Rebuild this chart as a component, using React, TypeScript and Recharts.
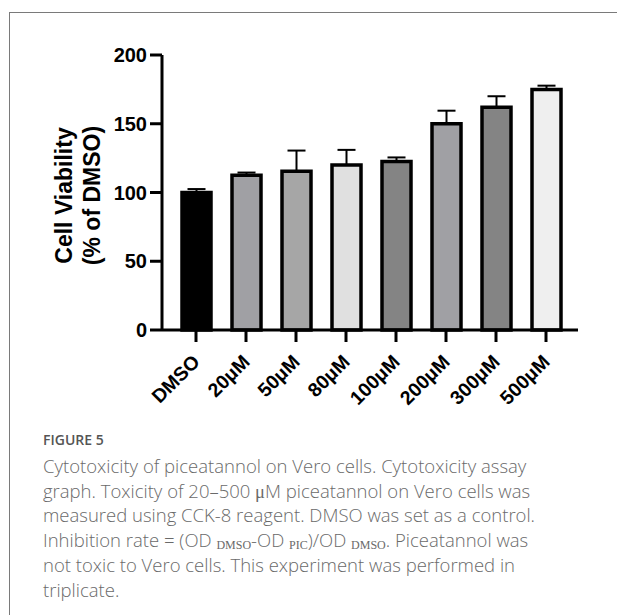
import { BarChart, Bar, Cell, XAxis, YAxis, ErrorBar, Label } from "recharts";

const categories = ["DMSO", "20μM", "50μM", "80μM", "100μM", "200μM", "300μM", "500μM"];
const viability = [100, 112.5, 115.5, 120, 122.5, 150, 162, 175];
const sdUpper = [2.5, 2, 15, 11, 3, 9.5, 8, 2.7];
const barFills = ["#000000", "#a0a0a4", "#a6a6a6", "#e0e0e0", "#848484", "#a0a0a4", "#848484", "#efefef"];
const yTicks = [0, 50, 100, 150, 200];

const data = categories.map((name, i) => ({
  name,
  v: viability[i],
  err: [0, sdUpper[i]],
}));

const axisFont = "'Liberation Sans', Arial, sans-serif";

function RotTick(props: any) {
  const { x, y, payload } = props;
  const ax = x + 5;
  const ay = y + 19;
  return (
    <text
      x={ax}
      y={ay}
      transform={`rotate(-45, ${ax}, ${ay})`}
      textAnchor="end"
      fontFamily={axisFont}
      fontWeight="bold"
      fontSize={19.5}
      fill="#000"
    >
      {payload.value}
    </text>
  );
}

function YLabel(props: any) {
  const vb = props.viewBox || {};
  const cy = vb.y + vb.height / 2 + 3;
  const x1 = vb.x + 44;
  const x2 = vb.x + 72;
  return (
    <g fontFamily={axisFont} fontWeight="bold" fontSize={23} fill="#000">
      <text x={x1} y={cy} transform={`rotate(-90, ${x1}, ${cy})`} textAnchor="middle" dominantBaseline="central">
        Cell Viability
      </text>
      <text x={x2} y={cy} transform={`rotate(-90, ${x2}, ${cy})`} textAnchor="middle" dominantBaseline="central">
        (% of DMSO)
      </text>
    </g>
  );
}

// serif bits in the caption (subscripts and the micro sign)
const sub = { fontFamily: "'Liberation Serif', serif", fontSize: 12, lineHeight: "0", position: "relative" as const, top: 2 };
const mu = { fontFamily: "'Liberation Serif', serif", lineHeight: "0" };

export default function App() {
  return (
    <div
      style={{
        position: "absolute",
        left: 0,
        top: 0,
        width: 617,
        height: 615,
        overflow: "hidden",
        background: "#fff",
      }}
    >
      <div
        style={{
          position: "absolute",
          left: 9,
          top: 12,
          width: 800,
          height: 800,
          border: "1px solid #7a7a7a",
        }}
      />
      <div style={{ position: "absolute", left: 0, top: 0 }}>
        <BarChart
          width={600}
          height={420}
          data={data}
          margin={{ top: 55, right: 22, left: 20, bottom: 0 }}
          barCategoryGap={0}
        >
          <XAxis
            dataKey="name"
            interval={0}
            height={90}
            tickSize={12}
            padding={{ left: 9, right: 7 }}
            axisLine={{ stroke: "#000", strokeWidth: 3 }}
            tickLine={{ stroke: "#000", strokeWidth: 3 }}
            tick={<RotTick />}
          />
          <YAxis
            width={142}
            domain={[0, 200]}
            ticks={yTicks}
            interval={0}
            tickSize={12}
            tickMargin={3}
            axisLine={{ stroke: "#000", strokeWidth: 3 }}
            tickLine={{ stroke: "#000", strokeWidth: 3 }}
            tick={{ fill: "#000", fontSize: 20, fontWeight: "bold", fontFamily: axisFont }}
          >
            <Label content={<YLabel />} />
          </YAxis>
          <Bar dataKey="v" barSize={29} stroke="#000" strokeWidth={3.5} isAnimationActive={false}>
            {data.map((d, i) => (
              <Cell key={d.name} fill={barFills[i]} />
            ))}
            <ErrorBar dataKey="err" direction="y" width={9} stroke="#000" strokeWidth={2} isAnimationActive={false} />
          </Bar>
        </BarChart>
      </div>
      <div
        style={{
          position: "absolute",
          left: 43,
          top: 431,
          fontFamily: "'Open Sans', sans-serif",
          color: "#6a6a6a",
          whiteSpace: "nowrap",
        }}
      >
        <div style={{ fontSize: 14, fontWeight: 600, lineHeight: "18px", color: "#555", marginBottom: 5 }}>FIGURE 5</div>
        <div style={{ fontSize: 18.5, fontWeight: 300, lineHeight: "24.7px" }}>
          <div>Cytotoxicity of piceatannol on Vero cells. Cytotoxicity assay</div>
          <div>
            graph. Toxicity of 20–500<span style={mu}> μ</span>M piceatannol on Vero cells was
          </div>
          <div>measured using CCK-8 reagent. DMSO was set as a control.</div>
          <div>
            Inhibition rate = (OD <span style={sub}>DMSO</span>-OD <span style={sub}>PIC</span>)/OD <span style={sub}>DMSO</span>. Piceatannol was
          </div>
          <div>not toxic to Vero cells. This experiment was performed in</div>
          <div>triplicate.</div>
        </div>
      </div>
    </div>
  );
}
